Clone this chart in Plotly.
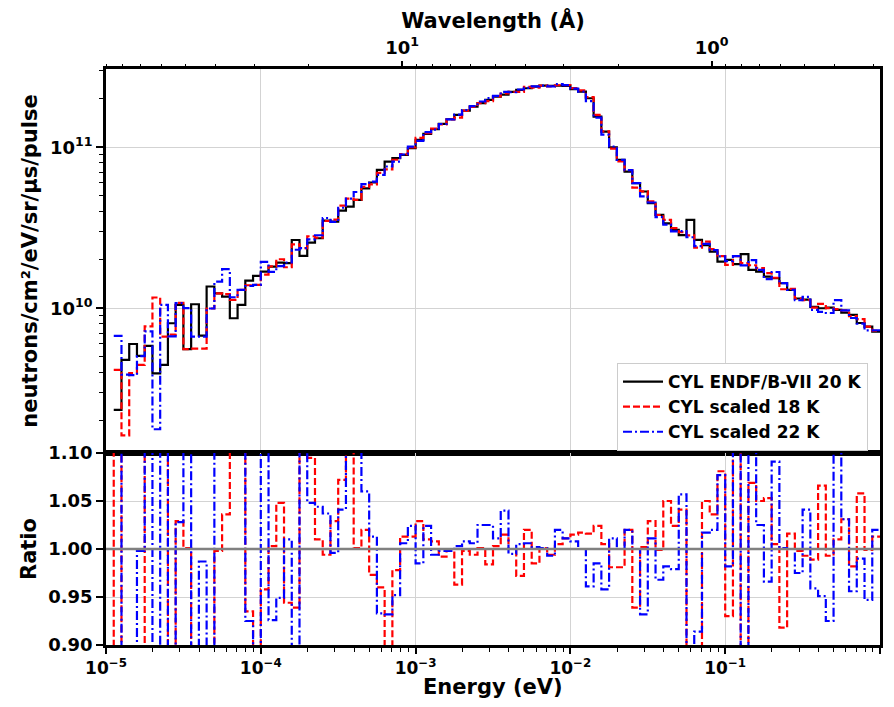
import numpy as np
import plotly.graph_objects as go

# Energy bin edges (eV), 100 log-spaced bins from 1e-5 to 1 eV
edges = 10 ** np.linspace(-5, 0, 101)

# CYL ENDF/B-VII 20 K spectrum, units of 1e10 n/cm2/eV/sr/us/pulse (bin 0 empty)
black = [None, 0.234, 0.478, 0.600, 0.506, 0.584, 0.394, 0.445, 0.807, 1.049,
         0.557, 1.059, 0.676, 1.365, 1.239, 1.181, 0.867, 1.049, 1.486, 1.589,
         1.690, 1.815, 1.923, 1.905, 2.655, 2.113, 2.557, 2.721, 3.505, 3.453,
         4.045, 4.278, 4.710, 5.561, 6.039, 7.228, 8.147, 8.551, 8.96, 9.86,
         11.11, 12.11, 12.94, 13.97, 14.93, 15.88, 16.90, 17.90, 18.77, 19.68,
         20.64, 21.25, 22.07, 22.72, 23.25, 23.82, 24.15, 24.04, 24.15, 24.04,
         22.93, 22.17, 20.15, 15.50, 12.50, 10.0, 8.34, 7.06, 5.98, 5.31,
         4.49, 3.80, 3.37, 3.07, 2.85, 3.54, 2.66, 2.47, 2.25, 1.95,
         2.00, 1.88, 2.17, 1.73, 1.69, 1.57, 1.54, 1.43, 1.30, 1.15,
         1.13, 1.02, 1.00, 1.01, 0.977, 0.94, 0.91, 0.81, 0.77, 0.716]

# Ratio scaled 18 K / ENDF 20 K
ratio_red = [0.5, 1.77, 0.34, 0.66, 0.88, 1.32, 2.96, 1.5, 0.85, 1.029,
             1.001, 0.53, 0.83, 0.73, 0.998, 1.036, 1.30, 1.24, 0.935, 0.88,
             0.958, 1.003, 1.048, 0.944, 0.939, 1.12, 1.095, 1.010, 0.994, 1.029,
             1.072, 1.12, 1.001, 1.020, 0.973, 0.960, 0.895, 0.978, 1.013, 1.013,
             1.029, 1.010, 1.008, 0.992, 0.998, 0.963, 0.998, 0.994, 1.001, 0.984,
             1.003, 1.015, 1.000, 0.972, 1.020, 0.985, 1.001, 0.994, 1.005, 1.011,
             1.015, 1.017, 1.016, 1.024, 1.005, 0.981, 0.981, 1.020, 0.939, 1.002,
             1.029, 0.999, 1.050, 1.024, 1.041, 0.80, 0.895, 1.050, 1.036, 1.081,
             0.930, 1.12, 0.88, 1.069, 1.050, 1.053, 1.005, 0.918, 1.016, 0.998,
             0.993, 0.989, 1.066, 0.993, 1.010, 1.031, 0.982, 1.058, 0.999, 1.013]

# Ratio scaled 22 K / ENDF 20 K
ratio_blue = [None, 2.88, 0.81, 0.64, 0.998, 1.23, 0.45, 2.36, 0.83, 1.028,
              1.8, 0.63, 0.987, 0.73, 1.18, 1.48, 1.35, 1.24, 0.925, 0.88,
              1.15, 0.926, 0.949, 1.010, 0.87, 1.12, 1.048, 1.044, 1.037, 0.996,
              1.041, 1.12, 1.12, 1.060, 1.013, 0.933, 0.932, 0.952, 1.006, 1.024,
              0.985, 1.024, 0.994, 0.998, 0.998, 1.003, 1.008, 1.006, 1.025, 1.025,
              1.011, 1.040, 0.995, 1.005, 1.006, 1.002, 1.001, 0.993, 1.020, 1.011,
              1.008, 1.000, 0.961, 0.985, 0.958, 1.011, 1.000, 1.020, 1.000, 0.932,
              1.011, 0.968, 0.982, 0.979, 1.057, 0.78, 0.914, 1.017, 1.020, 1.077,
              0.982, 1.12, 0.85, 1.15, 1.025, 0.966, 1.091, 1.001, 1.000, 0.975,
              1.041, 0.959, 0.951, 0.925, 1.15, 1.031, 0.956, 0.990, 0.947, 1.020]

labels = ["CYL ENDF/B-VII 20 K", "CYL scaled 18 K", "CYL scaled 22 K"]
energy_ticks = [1e-5, 1e-4, 1e-3, 1e-2, 1e-1, 1e0]
energy_ticktext = ["10<sup>\u22125</sup>", "10<sup>\u22124</sup>", "10<sup>\u22123</sup>",
                   "10<sup>\u22122</sup>", "10<sup>\u22121</sup>", "10<sup>0</sup>"]
wl_major = [10, 1]
wl_major_text = ["10<sup>1</sup>", "10<sup>0</sup>"]
wl_minor = [90, 80, 70, 60, 50, 40, 30, 20, 9, 8, 7, 6, 5, 4, 3, 2,
            0.9, 0.8, 0.7, 0.6, 0.5, 0.4, 0.3]
ratio_ticks = [0.90, 0.95, 1.00, 1.05, 1.10]


def to_energy(lam):
    return [0.0818042 / l ** 2 for l in lam]


def step_xy(vals):
    x = list(edges[:-1]) + [edges[-1]]
    y = list(vals) + [vals[-1]]
    return x, y


spec_black = [None if v is None else v * 1e10 for v in black]
spec_red = [None if (b is None or r is None) else b * r for b, r in zip(spec_black, ratio_red)]
spec_blue = [None if (b is None or r is None) else b * r for b, r in zip(spec_black, ratio_blue)]

FONT = "DejaVu Sans, sans-serif"
styles = [dict(color="black", width=2.2, dash="solid"),
          dict(color="#ff0000", width=2.2, dash="7px,3px"),
          dict(color="#0000ff", width=2.2, dash="9px,3px,2px,3px")]

fig = go.Figure()
for vals, lab, st in zip([spec_black, spec_red, spec_blue], labels, styles):
    x, y = step_xy(vals)
    fig.add_trace(go.Scatter(x=x, y=y, mode="lines", line=dict(shape="hv", **st),
                             name=lab, xaxis="x", yaxis="y", connectgaps=False))

for vals, st in zip([ratio_red, ratio_blue], styles[1:]):
    x, y = step_xy(vals)
    fig.add_trace(go.Scatter(x=x, y=y, mode="lines", line=dict(shape="hv", **st),
                             showlegend=False, xaxis="x2", yaxis="y2", connectgaps=False))

fig.add_trace(go.Scatter(x=[1e-5, 1], y=[1, 1], mode="lines",
                         line=dict(color="#808080", width=2.5),
                         showlegend=False, xaxis="x2", yaxis="y2"))
# invisible trace for the wavelength axis
fig.add_trace(go.Scatter(x=[1e-3], y=[1e10], mode="markers", marker=dict(opacity=0),
                         showlegend=False, hoverinfo="skip", xaxis="x3", yaxis="y"))

grid = "#d3d3d3"
ymin_minor = [m * 10 ** e for e in (9, 10) for m in range(2, 10)] + [2e11, 3e11]
x_minor = [m * 10 ** e for e in range(-5, 0) for m in range(2, 10)]
split = 0.3333
tickfont = dict(family=FONT, size=18, color="black", weight="bold")
xtickfont = dict(family=FONT, size=17, color="black", weight="bold")
xtitlefont = dict(family=FONT, size=21, color="black", weight="bold")
ytitlefont = dict(family=FONT, size=21, color="black", weight="bold")

# page has an 8px body margin: figure is 878x691 placed at (8, 8)
fig.update_layout(
    width=878, height=691,
    margin=dict(l=98, r=6, t=61, b=54, autoexpand=False),
    paper_bgcolor="white", plot_bgcolor="white",
    font=dict(family=FONT, color="black"),
    showlegend=True,
    legend=dict(x=0.9845, xanchor="right", y=0.4896, yanchor="top",
                bgcolor="white", bordercolor="#cccccc", borderwidth=1,
                font=dict(family=FONT, size=17, color="black", weight="bold"),
                itemwidth=40, tracegroupgap=0),
    xaxis=dict(type="log", range=[-5, 0], domain=[0, 1], anchor="y",
               tickvals=energy_ticks, showticklabels=False, ticks="",
               showgrid=True, gridcolor=grid, gridwidth=1.2, automargin=False,
               showline=True, linecolor="black", linewidth=2.5, mirror=True,
               zeroline=False),
    yaxis=dict(type="log", range=[9.101, 11.486], domain=[split, 1], anchor="x",
               tickvals=[1e10, 1e11], ticktext=["10<sup>10</sup>", "10<sup>11</sup>"],
               ticks="outside", ticklen=7, tickwidth=1.5, tickcolor="black",
               minor=dict(tickvals=ymin_minor, ticks="outside", ticklen=4,
                          tickwidth=1, tickcolor="black", showgrid=False),
               tickfont=tickfont, automargin=False,
               showgrid=True, gridcolor=grid, gridwidth=1.2,
               showline=True, linecolor="black", linewidth=2.5, mirror=True,
               title=dict(text="neutrons/cm\u00b2/eV/sr/\u03bcs/pulse", font=ytitlefont,
                          standoff=7)),
    xaxis2=dict(type="log", range=[-5, 0], domain=[0, 1], anchor="y2", matches="x",
                tickvals=energy_ticks, ticktext=energy_ticktext,
                ticks="outside", ticklen=6, tickwidth=1.5, tickcolor="black",
                minor=dict(tickvals=x_minor, ticks="outside", ticklen=4,
                           tickwidth=1, tickcolor="black", showgrid=False),
                tickfont=xtickfont, automargin=False,
                showgrid=True, gridcolor=grid, gridwidth=1.2,
                showline=True, linecolor="black", linewidth=2.5, mirror=True),
    yaxis2=dict(range=[0.9, 1.1], domain=[0, split], anchor="x2",
                tickvals=ratio_ticks, ticktext=["%.2f" % v for v in ratio_ticks],
                ticks="outside", ticklen=7, tickwidth=1.5, tickcolor="black",
                tickfont=tickfont, automargin=False,
                showgrid=True, gridcolor=grid, gridwidth=1.2, zeroline=False,
                showline=True, linecolor="black", linewidth=2.5, mirror=True,
                title=dict(text="Ratio", font=ytitlefont, standoff=6)),
    xaxis3=dict(type="log", range=[-5, 0], overlaying="x", side="top", anchor="y",
                tickvals=to_energy(wl_major), ticktext=wl_major_text,
                ticks="outside", ticklen=7, tickwidth=1.5, tickcolor="black",
                minor=dict(tickvals=to_energy(wl_minor), ticks="outside", ticklen=4,
                           tickwidth=1, tickcolor="black", showgrid=False),
                tickfont=tickfont, showgrid=False, showline=False, zeroline=False,
                automargin=False,
                title=dict(text="Wavelength (\u00c5)", font=xtitlefont, standoff=2)),
    annotations=[dict(text="Energy (eV)", xref="paper", yref="paper", x=0.5, y=0,
                      xanchor="center", yanchor="middle", yshift=-42,
                      showarrow=False, font=xtitlefont)],
)

fig.write_html("out.html")
